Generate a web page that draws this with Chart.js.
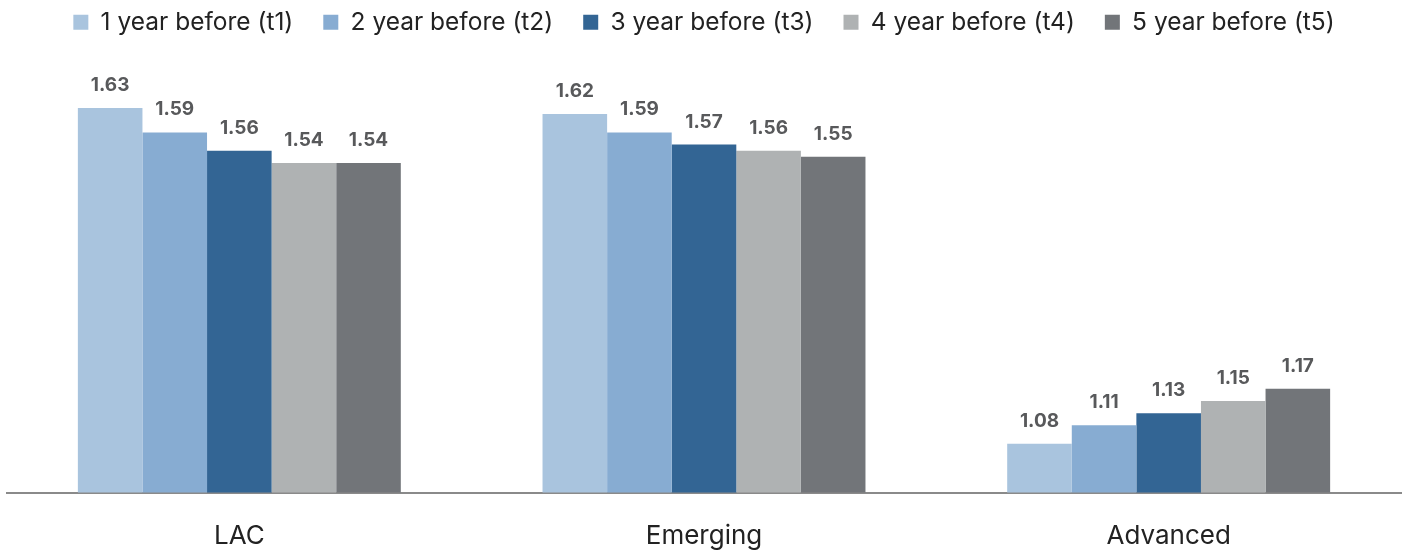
<!DOCTYPE html>
<html>
<head>
<meta charset="utf-8">
<script src="https://cdn.jsdelivr.net/npm/chart.js@4"></script>
<style>
  html, body { margin: 0; padding: 0; background: #ffffff; }
  #wrap { width: 1406px; height: 552px; }
</style>
</head>
<body>
<div id="wrap"><canvas id="chart" width="1406" height="552"></canvas></div>
<script>
const categories = ["LAC", "Emerging", "Advanced"];
const seriesNames = [
  "1 year before (t1)",
  "2 year before (t2)",
  "3 year before (t3)",
  "4 year before (t4)",
  "5 year before (t5)"
];
const t1 = [1.63, 1.62, 1.08];
const t2 = [1.59, 1.59, 1.11];
const t3 = [1.56, 1.57, 1.13];
const t4 = [1.54, 1.56, 1.15];
const t5 = [1.54, 1.55, 1.17];
const seriesValues = [t1, t2, t3, t4, t5];
const seriesColors = ["#a9c4de", "#87acd2", "#336594", "#afb2b3", "#727579"];

// Value labels above each bar
const valueLabels = {
  id: "valueLabels",
  afterDatasetsDraw(chart) {
    const ctx = chart.ctx;
    ctx.save();
    ctx.font = "bold 19px Inter, 'Liberation Sans', sans-serif";
    ctx.fillStyle = "#58595b";
    ctx.textAlign = "center";
    ctx.textBaseline = "alphabetic";
    chart.data.datasets.forEach((ds, i) => {
      const meta = chart.getDatasetMeta(i);
      meta.data.forEach((bar, j) => {
        ctx.fillText(ds.data[j].toFixed(2), bar.x, bar.y - 17);
      });
    });
    ctx.restore();
  }
};

new Chart(document.getElementById("chart"), {
  type: "bar",
  data: {
    labels: categories,
    datasets: seriesNames.map((name, i) => ({
      label: name,
      data: seriesValues[i],
      backgroundColor: seriesColors[i],
      borderWidth: 0,
      categoryPercentage: 0.695,
      barPercentage: 1.0
    }))
  },
  options: {
    responsive: false,
    animation: false,
    layout: { padding: { left: 7, right: 5, top: -20, bottom: 0 } },
    plugins: {
      legend: {
        position: "top",
        align: "center",
        labels: {
          boxWidth: 15,
          boxHeight: 15,
          padding: 30,
          color: "#222222",
          font: { family: "Inter, 'Liberation Sans', sans-serif", size: 24.5 }
        }
      },
      tooltip: { enabled: false }
    },
    scales: {
      x: {
        grid: { display: false },
        border: { display: true, color: "#8a8a8a", width: 2 },
        ticks: {
          color: "#222222",
          padding: 20,
          font: { family: "Inter, 'Liberation Sans', sans-serif", size: 26 }
        },
        afterFit(scale) { scale.height = 59.5; }
      },
      y: {
        display: false,
        min: 1.0,
        max: 1.734,
        grid: { display: false }
      }
    }
  },
  plugins: [valueLabels]
});
</script>
</body>
</html>
